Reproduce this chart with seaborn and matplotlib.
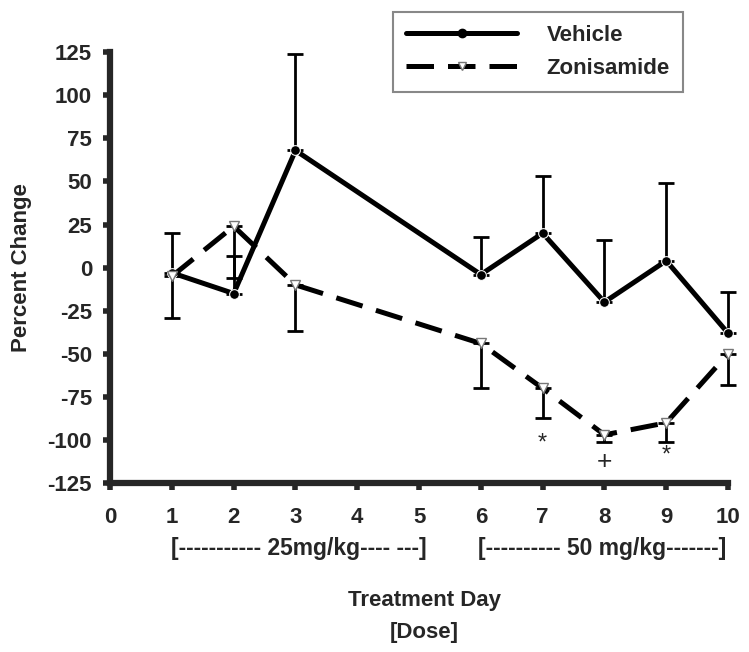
import numpy as np
import pandas as pd
import seaborn as sns
import matplotlib.pyplot as plt
from matplotlib.lines import Line2D

days = [1, 2, 3, 6, 7, 8, 9, 10]
vehicle = [-3, -15, 68, -4, 20, -20, 4, -38]
vehicle_err = [23, 22, 56, 22, 33, 36, 45, 24]
zonisamide = [-5, 24, -10, -44, -70, -97, -90, -50]
zonisamide_err = [24, 30, 27, 26, 17, 4, 11, 18]

sig_days = [7, 8, 9]
sig_marks = ["*", "+", "*"]
sig_y = [-102, -113, -109]

yticks = list(range(-125, 126, 25))
xticks = list(range(0, 11))

df = pd.concat([
    pd.DataFrame({"day": days, "change": vehicle, "group": "Vehicle"}),
    pd.DataFrame({"day": days, "change": zonisamide, "group": "Zonisamide"}),
])

sns.set_style("ticks")
plt.rcParams["font.family"] = ["Liberation Sans", "DejaVu Sans"]
plt.rcParams["font.weight"] = "bold"
plt.rcParams["axes.labelweight"] = "bold"
plt.rcParams["axes.unicode_minus"] = False

FS = 16
LW = 3.6

fig = plt.figure(figsize=(7.49, 6.52), dpi=100)
ax = fig.add_axes([0.147, 0.259, 0.825, 0.661])

# error bars: vehicle goes up, zonisamide goes down
ax.errorbar(days, vehicle, yerr=[np.zeros(len(days)), vehicle_err], fmt="none",
            ecolor="black", elinewidth=2.0, capsize=5.5, capthick=2.0, clip_on=False)
ax.errorbar(days, zonisamide, yerr=[zonisamide_err, np.zeros(len(days))], fmt="none",
            ecolor="black", elinewidth=2.0, capsize=5.5, capthick=2.0, clip_on=False)

sns.lineplot(data=df, x="day", y="change", hue="group", style="group",
             palette={"Vehicle": "black", "Zonisamide": "black"},
             dashes={"Vehicle": "", "Zonisamide": (5.5, 2.8)},
             markers={"Vehicle": "o", "Zonisamide": "v"},
             markersize=7, linewidth=LW, ax=ax, legend=False, clip_on=False)

for ln in ax.get_lines():
    if ln.get_marker() == "v":
        ln.set_markerfacecolor("white")
        ln.set_markeredgecolor("#777777")
        ln.set_markeredgewidth(1)

for d, m, yy in zip(sig_days, sig_marks, sig_y):
    ax.text(d, yy, m, ha="center", va="center", fontsize=19 if m == "+" else 17,
            fontweight="normal")

ax.set_xlim(0, 10)
ax.set_ylim(-125, 125)
ax.set_xticks(xticks)
ax.set_yticks(yticks)
ax.tick_params(axis="both", labelsize=FS, width=4, length=5, direction="out", pad=8)
ax.tick_params(axis="x", pad=12)
for s in ["left", "bottom"]:
    ax.spines[s].set_linewidth(4.5)
sns.despine(ax=ax)
ax.set_xlabel("")
ax.set_ylabel("Percent Change", fontsize=FS, labelpad=11)

ax.text(3.06, -0.151, "[----------- 25mg/kg---- ---]", transform=ax.get_xaxis_transform(),
        ha="center", va="center", fontsize=FS + 0.5)
ax.text(7.96, -0.151, "[---------- 50 mg/kg-------]", transform=ax.get_xaxis_transform(),
        ha="center", va="center", fontsize=FS + 0.5)
fig.text(0.567, 0.079, "Treatment Day", ha="center", va="center", fontsize=FS)
fig.text(0.567, 0.030, "[Dose]", ha="center", va="center", fontsize=FS)

handles = [
    Line2D([], [], color="black", lw=LW, marker="o", markersize=6),
    Line2D([], [], color="black", lw=LW, dashes=(5.5, 2.8), marker="v", markersize=6,
           markerfacecolor="white", markeredgecolor="#777777"),
]
leg = ax.legend(handles, ["Vehicle", "Zonisamide"], loc="upper right",
                bbox_to_anchor=(0.945, 1.12), fontsize=FS, handlelength=5,
                fancybox=False, framealpha=1, edgecolor="#888888",
                borderpad=0.6, handletextpad=1.3, labelspacing=0.55)
leg.get_frame().set_linewidth(1.5)

fig.savefig("out.png", dpi=100)
